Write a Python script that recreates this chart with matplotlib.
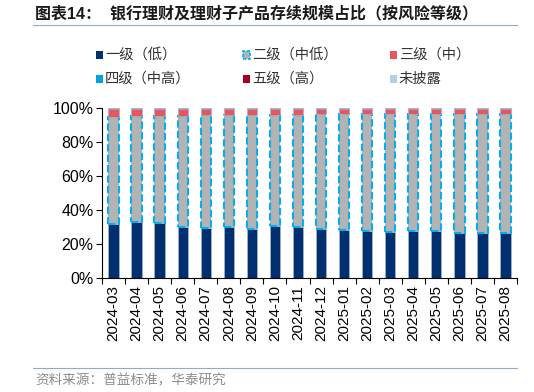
import matplotlib
matplotlib.use("Agg")
import matplotlib.pyplot as plt
import numpy as np
from matplotlib.patches import Rectangle
from matplotlib.lines import Line2D

plt.rcParams['font.family'] = ['Liberation Sans', 'Noto Sans CJK SC']

months = ["2024-03", "2024-04", "2024-05", "2024-06", "2024-07", "2024-08",
          "2024-09", "2024-10", "2024-11", "2024-12", "2025-01", "2025-02",
          "2025-03", "2025-04", "2025-05", "2025-06", "2025-07", "2025-08"]

lvl1 = [31.6, 33.1, 32.2, 30.0, 29.6, 29.8, 28.8, 30.4, 30.0,
        29.0, 28.2, 27.8, 27.3, 27.8, 27.5, 26.7, 26.7, 26.5]
lvl2 = [62.9, 62.0, 62.9, 65.1, 66.1, 65.9, 66.9, 65.5, 66.0,
        67.3, 68.1, 68.5, 68.9, 68.5, 68.8, 69.6, 69.7, 69.9]
lvl3 = [5.1, 4.5, 4.5, 4.5, 3.9, 3.9, 3.9, 3.7, 3.6,
        3.3, 3.3, 3.3, 3.4, 3.3, 3.3, 3.3, 3.2, 3.2]
lvl4 = [0.1] * 18
lvl5 = [0.05] * 18
undisclosed = [0.25] * 18

series = [
    ("一级（低）", lvl1, "#003070"),
    ("二级（中低）", lvl2, "#B3B3B3"),
    ("三级（中）", lvl3, "#E5575C"),
    ("四级（中高）", lvl4, "#00A3E0"),
    ("五级（高）", lvl5, "#A50021"),
    ("未披露", undisclosed, "#ADD3E3"),
]

fig = plt.figure(figsize=(5.34, 3.92), dpi=100)
ax = fig.add_axes([102 / 534, 1 - 278 / 392, 415 / 534, 170 / 392])

x = np.arange(len(months))
bottom = np.zeros(len(months))
for name, vals, col in series:
    vals = np.array(vals)
    if name.startswith("二级"):
        ax.bar(x, vals, 0.45, bottom=bottom, color=col, edgecolor="#00B0F0",
               linewidth=1.5, linestyle=(0, (3.5, 1.5)), zorder=2)
    else:
        ax.bar(x, vals, 0.45, bottom=bottom, color=col, edgecolor="#A9B8CC",
               linewidth=0.5, zorder=2)
    bottom += vals

ax.set_xlim(-0.5, len(months) - 0.5)
ax.set_ylim(0, 100)
ax.set_yticks(np.arange(0, 101, 20))
ax.set_yticklabels([f"{v}%" for v in range(0, 101, 20)], fontsize=11.5)
ax.set_xticks(x)
ax.set_xticklabels(months, rotation=90, fontsize=11)
ax.set_xticks(np.arange(-0.5, len(months)), minor=True)
ax.tick_params(axis='x', which='major', length=0, pad=5)
ax.tick_params(axis='x', which='minor', length=4, direction='out', width=0.8)
ax.tick_params(axis='y', length=4, width=0.8, pad=2)
for s in ["top", "right"]:
    ax.spines[s].set_visible(False)
for s in ["left", "bottom"]:
    ax.spines[s].set_linewidth(0.8)

# title and rules
fig.text(35 / 534, 1 - 14 / 392, "图表14：  银行理财及理财子产品存续规模占比（按风险等级）",
         fontsize=11.5, fontweight='bold', va='center', ha='left', color="#1a1a1a")
fig.add_artist(Line2D([33 / 534, 517 / 534], [1 - 24.5 / 392] * 2,
                      transform=fig.transFigure, color="#8FAACC", lw=0.8))
fig.add_artist(Line2D([33 / 534, 517 / 534], [1 - 368 / 392] * 2,
                      transform=fig.transFigure, color="#8FAACC", lw=0.8))
fig.text(35 / 534, 1 - 380 / 392, "资料来源：普益标准，华泰研究",
         fontsize=9.8, color="#8C8C8C", va='center', ha='left')

# legend
col_x = [96, 243, 390]
row_y = [55, 79]
for i, (name, vals, col) in enumerate(series):
    cx = col_x[i % 3]
    cy = row_y[i // 3]
    sq = 7
    if name.startswith("二级"):
        fig.add_artist(Rectangle((cx / 534, 1 - (cy + sq / 2) / 392), sq / 534, sq / 392,
                                 transform=fig.transFigure, facecolor=col,
                                 edgecolor="#00B0F0", lw=1.2, linestyle=(0, (2, 1))))
    else:
        fig.add_artist(Rectangle((cx / 534, 1 - (cy + sq / 2) / 392), sq / 534, sq / 392,
                                 transform=fig.transFigure, facecolor=col, edgecolor='none'))
    fig.text((cx + 9) / 534, 1 - cy / 392, name, fontsize=10.3, va='center', ha='left',
             color="#333333")

fig.savefig("out.png", dpi=100)
